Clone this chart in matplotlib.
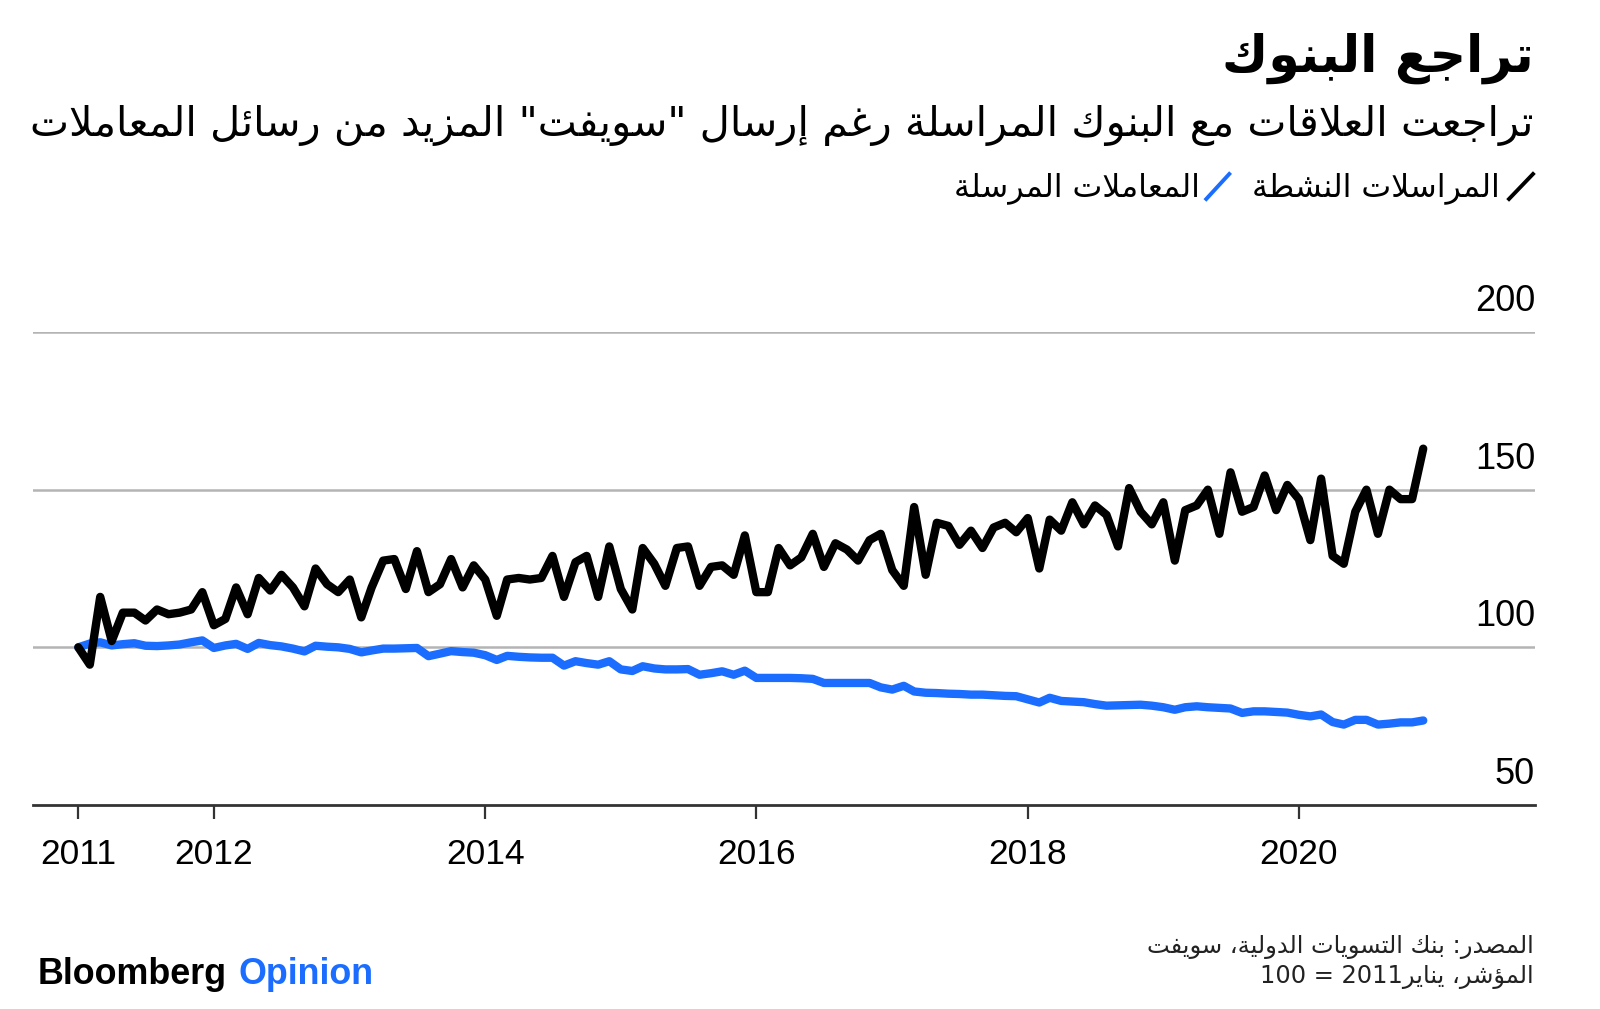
import re
import matplotlib
matplotlib.use('Agg')
import matplotlib.pyplot as plt
from matplotlib.lines import Line2D
import pandas as pd

# monthly index, Jan 2011 = 100
active_corr = [100, 94.5, 116, 102, 111, 111, 108.5, 112, 110.5, 111, 112, 117.5,
               107, 109, 119, 110.5, 122, 118, 123, 119, 113, 125, 120, 117.5,
               121.5, 109.5, 119, 127.5, 128, 118.5, 130.5, 117.5, 120, 128, 119, 126,
               121.5, 110, 121.5, 122, 121.5, 122, 129, 116, 127, 129, 116, 132,
               118.5, 112, 131.5, 126.5, 119.5, 131.5, 132, 119.5, 125.5, 126, 123, 135.5,
               117.5, 117.5, 131.5, 126, 128.5, 136, 125.5, 133, 131, 127.5, 134, 136,
               124.5, 119.5, 144.5, 123, 139.5, 138.5, 132.5, 137, 131.5, 138, 139.5, 136.5,
               141, 125, 140.5, 137, 146, 139, 145, 142, 132, 150.5, 143, 139,
               146, 127.5, 143.5, 145, 150, 136, 155.5, 143, 144.5, 154.5, 143.5, 151.5,
               147, 134, 153.5, 129, 126.5, 143, 150, 136, 150, 147, 147, 163]
msgs_sent = [100, 101.2, 101.6, 100.6, 101.0, 101.3, 100.5, 100.4, 100.6, 100.9, 101.6, 102.2,
             99.8, 100.6, 101.1, 99.5, 101.4, 100.7, 100.3, 99.6, 98.7, 100.5, 100.2, 100.0,
             99.5, 98.4, 99.0, 99.6, 99.6, 99.7, 99.8, 97.2, 98.0, 98.8, 98.5, 98.3,
             97.5, 96.0, 97.3, 97.0, 96.8, 96.7, 96.7, 94.2, 95.6, 95.0, 94.5, 95.6,
             93.0, 92.5, 94.0, 93.3, 93.0, 93.0, 93.1, 91.3, 91.8, 92.4, 91.3, 92.6,
             90.3, 90.3, 90.3, 90.3, 90.2, 90.0, 88.7, 88.7, 88.7, 88.7, 88.7, 87.3,
             86.6, 87.8, 86.0, 85.6, 85.5, 85.3, 85.2, 85.0, 85.0, 84.8, 84.6, 84.5,
             83.5, 82.5, 84.0, 83.0, 82.8, 82.6, 82.0, 81.5, 81.6, 81.7, 81.8, 81.5,
             81.0, 80.2, 81.0, 81.3, 81.0, 80.8, 80.6, 79.2, 79.7, 79.7, 79.5, 79.3,
             78.6, 78.1, 78.7, 76.3, 75.5, 77.0, 77.0, 75.5, 75.8, 76.2, 76.2, 76.8]
tick_years = [2011, 2012, 2014, 2016, 2018, 2020]
y_levels = [50, 100, 150, 200]

title = 'تراجع البنوك'
subtitle = 'تراجعت العلاقات مع البنوك المراسلة رغم إرسال "سويفت" المزيد من رسائل المعاملات'
leg_black = 'المراسلات النشطة'
leg_blue = 'المعاملات المرسلة'
source = 'المصدر: بنك التسويات الدولية، سويفت'
note = 'المؤشر، يناير2011 = 100'

BLUE = '#1a6dff'

# simple arabic shaping (presentation forms) + visual reordering
DUAL = {'ئ': 0xFE89, 'ب': 0xFE8F, 'ت': 0xFE95, 'ث': 0xFE99, 'ج': 0xFE9D, 'ح': 0xFEA1,
        'خ': 0xFEA5, 'س': 0xFEB1, 'ش': 0xFEB5, 'ص': 0xFEB9, 'ض': 0xFEBD, 'ط': 0xFEC1,
        'ظ': 0xFEC5, 'ع': 0xFEC9, 'غ': 0xFECD, 'ف': 0xFED1, 'ق': 0xFED5, 'ك': 0xFED9,
        'ل': 0xFEDD, 'م': 0xFEE1, 'ن': 0xFEE5, 'ه': 0xFEE9, 'ي': 0xFEF1}
RIGHT = {'آ': 0xFE81, 'أ': 0xFE83, 'ؤ': 0xFE85, 'إ': 0xFE87, 'ا': 0xFE8D, 'ة': 0xFE93,
         'د': 0xFEA9, 'ذ': 0xFEAB, 'ر': 0xFEAD, 'ز': 0xFEAF, 'و': 0xFEED, 'ى': 0xFEEF}
LAMALEF = {'آ': 0xFEF5, 'أ': 0xFEF7, 'إ': 0xFEF9, 'ا': 0xFEFB}


def shape(s):
    out = []
    i = 0
    while i < len(s):
        c = s[i]
        jp = i > 0 and s[i - 1] in DUAL
        nxt = s[i + 1] if i + 1 < len(s) else ''
        if c == 'ل' and nxt in LAMALEF:
            out.append(chr(LAMALEF[nxt] + jp))
            i += 2
            continue
        if c in DUAL:
            jn = nxt in DUAL or nxt in RIGHT
            off = 3 if (jp and jn) else 1 if jp else 2 if jn else 0
            out.append(chr(DUAL[c] + off))
        elif c in RIGHT:
            out.append(chr(RIGHT[c] + jp))
        else:
            out.append(c)
        i += 1
    return ''.join(out)


def rtl(s):
    v = shape(s)[::-1]
    return re.sub(r'[0-9A-Za-z]+', lambda m: m.group(0)[::-1], v)


W, H = 1600, 1009
fig = plt.figure(figsize=(W / 100, H / 100), dpi=100)
rend = fig.canvas.get_renderer()


def px(x, y):
    return x / W, 1 - y / H


def fit(t, width):
    w = t.get_window_extent(rend).width
    t.set_fontsize(t.get_fontsize() * width / w)
    return t


ar = ['DejaVu Sans']
num = ['Liberation Sans', 'DejaVu Sans']

ax = fig.add_axes([33 / W, 1 - 805 / H, (1535 - 33) / W, (805 - 332) / H])
dates = pd.date_range('2011-01-01', periods=len(active_corr), freq='MS')

for v in y_levels[1:]:
    ax.axhline(v, color='#b4b4b4', lw=1.8, zorder=1)
ax.plot(dates, msgs_sent, color=BLUE, lw=6, solid_joinstyle='round',
        solid_capstyle='round', zorder=3)
ax.plot(dates, active_corr, color='black', lw=6, solid_joinstyle='round',
        solid_capstyle='round', zorder=4)

ax.set_ylim(y_levels[0], y_levels[-1])
ax.set_xlim(pd.Timestamp('2010-09-01'), pd.Timestamp('2021-09-28'))
for s in ['top', 'right', 'left']:
    ax.spines[s].set_visible(False)
ax.spines['bottom'].set_color('#333333')
ax.spines['bottom'].set_linewidth(2)
ax.set_xticks([pd.Timestamp(f'{y}-01-01') for y in tick_years])
ax.set_xticklabels([str(y) for y in tick_years], fontsize=25.5, family=num)
ax.tick_params(axis='x', length=10, width=1.6, color='#333333', pad=14)
ax.tick_params(axis='y', left=False, labelleft=False)
ax.set_yticks([])
for v in y_levels:
    ax.annotate(str(v), xy=(1, v), xycoords=('axes fraction', 'data'),
                xytext=(0, 15), textcoords='offset points', ha='right',
                va='baseline', fontsize=26, family=num)

# header
t = fig.text(*px(1534, 58), rtl(title), ha='right', va='center', fontsize=40,
             weight='bold', family=ar)
fit(t, 312)
t = fig.text(*px(1534, 125), rtl(subtitle), ha='right', va='center', fontsize=30,
             family=ar)
fit(t, 1500)

# legend
fig.add_artist(Line2D([px(1509, 0)[0], px(1533, 0)[0]], [px(0, 199)[1], px(0, 174)[1]],
                      transform=fig.transFigure, color='black', lw=2.8))
t1 = fig.text(*px(1500, 188), rtl(leg_black), ha='right', va='center', fontsize=20,
              family=ar)
fit(t1, 247)
left1 = t1.get_window_extent(rend).x0
fig.add_artist(Line2D([(left1 - 46) / W, (left1 - 23) / W], [px(0, 199)[1], px(0, 174)[1]],
                      transform=fig.transFigure, color=BLUE, lw=2.8))
t2 = fig.text((left1 - 52) / W, px(0, 188)[1], rtl(leg_blue), ha='right', va='center',
              fontsize=t1.get_fontsize(), family=ar)

# footer
t = fig.text(*px(1534, 947), rtl(source), ha='right', va='center', fontsize=15,
             family=ar, color='#222222')
fit(t, 389)
fig.text(*px(1534, 977), rtl(note), ha='right', va='center', fontsize=t.get_fontsize(),
         family=ar, color='#222222')
tb = fig.text(*px(38, 975), 'Bloomberg', ha='left', va='center', fontsize=24,
              weight='bold', family=num)
fit(tb, 190)
xb = tb.get_window_extent(rend).x1
fig.text((xb + 11) / W, px(0, 975)[1], 'Opinion', ha='left', va='center',
         fontsize=tb.get_fontsize(), weight='bold', family=num, color=BLUE)

fig.savefig('out.png', dpi=100)
